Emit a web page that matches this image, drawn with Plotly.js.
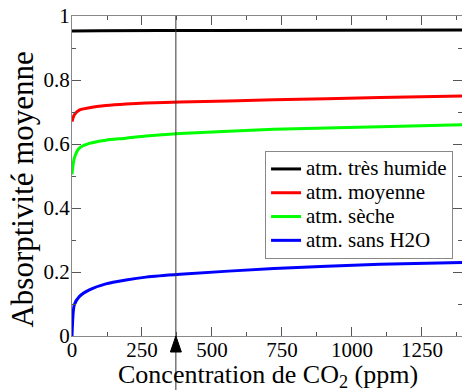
<!DOCTYPE html>
<html>
<head>
<meta charset="utf-8">
<script src="https://cdn.plot.ly/plotly-3.0.1.min.js"></script>
<style>
html,body{margin:0;padding:0;background:#fff;}
#chart text { font-family: 'Liberation Serif', 'Times New Roman', serif !important; }
</style>
</head>
<body>
<div id="chart" style="width:462px;height:390px;"></div>
<script>
// CO2 concentrations (ppm) where each curve was read
const co2 = [0, 8, 26, 62, 121, 193, 264, 386, 721, 1100, 1393];
const co2Humid = [0, 100, 500, 1393];

// Mean absorptivity per atmosphere type
const tresHumide = [0.953, 0.954, 0.955, 0.956];
const moyenne = [0.670, 0.691, 0.706, 0.713, 0.720, 0.725, 0.728, 0.731, 0.738, 0.745, 0.750];
const seche = [0.505, 0.555, 0.587, 0.602, 0.612, 0.618, 0.625, 0.633, 0.646, 0.654, 0.660];
const sansH2O = [0.0, 0.097, 0.123, 0.144, 0.163, 0.175, 0.184, 0.193, 0.211, 0.224, 0.230];

const seriesNames = ['atm. très humide', 'atm. moyenne', 'atm. sèche', 'atm. sans H2O'];
const seriesColors = ['#000000', '#ff0000', '#00ff00', '#0000ff'];

// Current CO2 marker (ppm)
const currentCO2 = 371;

const xTickVals = [0, 250, 500, 750, 1000, 1250];
const xTickText = ['0', '250', '500', '750', '1000', '1250'];
const yTickVals = [0, 0.2, 0.4, 0.6, 0.8, 1];
const yTickText = ['0', '0.2', '0.4', '0.6', '0.8', '1'];

const xTitle = 'Concentration de CO<sub>2</sub> (ppm)';
const yTitle = 'Absorptivité moyenne';

const FONT = 'Liberation Serif';

const xs = [co2Humid, co2, co2, co2];
const ys = [tresHumide, moyenne, seche, sansH2O];
const traces = ys.map((y, i) => ({
  type: 'scatter', mode: 'lines',
  x: xs[i], y: y,
  name: '<span style="font-size:21px">' + seriesNames[i] + '</span>',
  line: {color: seriesColors[i], width: 3, shape: 'spline', smoothing: 0.6},
  cliponaxis: true
}));

const layout = {
  width: 462, height: 390,
  margin: {l: 72, r: 0, t: 16, b: 54},
  paper_bgcolor: '#fff', plot_bgcolor: '#fff',
  font: {family: FONT, color: '#000', size: 21},
  showlegend: true,
  legend: {
    x: 0.495, y: 0.578, xanchor: 'left', yanchor: 'top',
    bgcolor: '#fff', bordercolor: '#888', borderwidth: 1,
    font: {family: FONT, size: 16, color: '#000'},
    itemwidth: 30, tracegroupgap: 0
  },
  xaxis: {
    range: [0, 1393], autorange: false,
    tickvals: xTickVals, ticktext: xTickText,
    ticks: 'inside', ticklen: 9, tickwidth: 1, tickcolor: '#555',
    minor: {dtick: 125, tick0: 0, ticks: 'inside', ticklen: 4, tickcolor: '#555', showgrid: false},
    showline: true, linecolor: '#888', linewidth: 1, mirror: 'ticks',
    showgrid: false, zeroline: false,
    tickfont: {family: FONT, size: 21, color: '#000'},
    ticklabelstandoff: -5
  },
  yaxis: {
    range: [0, 1], autorange: false,
    tickvals: yTickVals, ticktext: yTickText,
    ticks: 'inside', ticklen: 9, tickwidth: 1, tickcolor: '#555',
    minor: {dtick: 0.1, tick0: 0, ticks: 'inside', ticklen: 4, tickcolor: '#555', showgrid: false},
    showline: true, linecolor: '#888', linewidth: 1, mirror: 'ticks',
    showgrid: false, zeroline: false,
    tickfont: {family: FONT, size: 21, color: '#000'},
    ticklabelstandoff: -3
  },
  annotations: [
    {text: xTitle, xref: 'paper', yref: 'paper', x: 0.502, y: -0.124, xanchor: 'center', yanchor: 'middle',
     showarrow: false, font: {family: FONT, size: 26, color: '#000'}},
    {text: yTitle, xref: 'paper', yref: 'paper', x: -0.128, y: 0.458, xanchor: 'center', yanchor: 'middle',
     textangle: -90, showarrow: false, font: {family: FONT, size: 31, color: '#000'}}
  ],
  shapes: [
    {type: 'line', xref: 'x', yref: 'paper', x0: currentCO2, x1: currentCO2, y0: -0.2, y1: 1,
     line: {color: '#333', width: 1}, layer: 'above'},
    {type: 'path', xref: 'x', yref: 'paper', xsizemode: 'pixel', ysizemode: 'pixel',
     xanchor: currentCO2, yanchor: 0,
     path: 'M0,0 L-5.5,-16 L5.5,-16 Z', fillcolor: '#000', line: {color: '#000', width: 1}, layer: 'above'}
  ]
};

Plotly.newPlot('chart', traces, layout, {displayModeBar: false, staticPlot: true});
</script>
</body>
</html>
